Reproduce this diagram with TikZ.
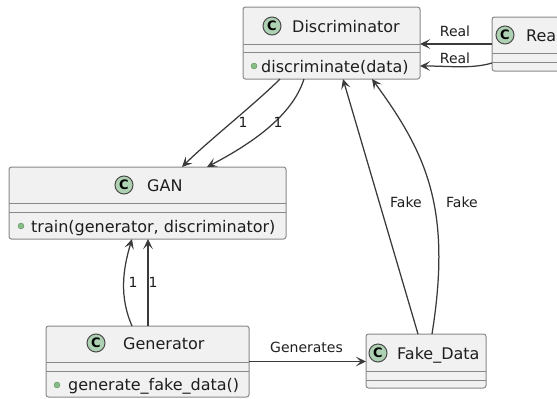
\documentclass[tikz,border=0pt]{standalone}
\usepackage{fontspec}
\setmainfont{DejaVu Sans}
\usetikzlibrary{arrows.meta}

\definecolor{boxfill}{HTML}{F1F1F1}
\definecolor{boxline}{HTML}{888888}
\definecolor{linecol}{HTML}{3A3A3A}
\definecolor{iconfill}{HTML}{ADD1B2}
\definecolor{iconline}{HTML}{4A4A4A}
\definecolor{bulletcol}{HTML}{84BE84}
\definecolor{textcol}{HTML}{1E1E1E}

\tikzset{
  classbox/.style={draw=boxline, fill=boxfill, line width=1pt, rounded corners=2.5pt,
    inner sep=0pt, outer sep=0pt, shape=rectangle},
  sepline/.style={draw=boxline, line width=1pt},
  cicon/.style={circle, draw=iconline, fill=iconfill, line width=1pt, minimum size=18pt,
    inner sep=0pt, text=black, font=\fontsize{13}{13}\selectfont\bfseries},
  cname/.style={anchor=base west, inner sep=0pt, text=textcol, font=\fontsize{16}{18}\selectfont},
  member/.style={anchor=base west, inner sep=0pt, text=textcol, font=\fontsize{16}{18}\selectfont},
  bullet/.style={circle, fill=bulletcol, draw=bulletcol!70!black, line width=0.3pt,
    minimum size=6pt, inner sep=0pt},
  conn/.style={draw=linecol, line width=1.25pt,
    -{Stealth[length=10pt, width=9.5pt, inset=4.5pt]}},
  lbl/.style={anchor=base, inner sep=0pt, text=textcol, font=\fontsize{14}{16}\selectfont},
}

\begin{document}
\begin{tikzpicture}[x=1pt, y=-1pt]
  \useasboundingbox (0,0) rectangle (557,399);
  \clip (0,0) rectangle (557,399);

  % class boxes
  \node[classbox, minimum width=177pt, minimum height=72pt] (disc) at (331.5,43) {};
  \node[classbox, minimum width=277pt, minimum height=72pt] (gan)  at (147.5,203) {};
  \node[classbox, minimum width=203pt, minimum height=71pt] (gen)  at (147.5,361.5) {};
  \node[classbox, minimum width=120pt, minimum height=54pt] (fake) at (426,361) {};
  \node[classbox, minimum width=110pt, minimum height=54pt] (real) at (547,44) {};

  % compartment separators
  \draw[sepline] (243,44) -- (420,44) (243,52) -- (420,52);
  \draw[sepline] (9,203) -- (286,203) (9,212) -- (286,212);
  \draw[sepline] (46,362) -- (249,362) (46,371) -- (249,371);
  \draw[sepline] (366,371) -- (486,371) (366,380) -- (486,380);
  \draw[sepline] (492,53) -- (602,53) (492,62) -- (602,62);

  % class icons and names
  \node[cicon] (discC) at (272,26) {C};
  \node[cname] (discN) at (292,32) {Discriminator};
  \node[cicon] (ganC) at (124,185) {C};
  \node[cname] (ganN) at (147,191) {GAN};
  \node[cicon] (genC) at (96,343) {C};
  \node[cname] (genN) at (123,349) {Generator};
  \node[cicon] (fakeC) at (378,353) {C};
  \node[cname] (fakeN) at (397,359) {Fake\_Data};
  \node[cicon] (realC) at (505,35) {C};
  \node[cname] (realN) at (526,41) {Rea};

  % methods
  \node[bullet] (discB) at (254,66) {};
  \node[member] (discM) at (261,72) {discriminate(data)};
  \node[bullet] (ganB) at (21,226) {};
  \node[member] (ganM) at (31,232) {train(generator, discriminator)};
  \node[bullet] (genB) at (57,385) {};
  \node[member] (genM) at (68,390) {generate\_fake\_data()};

  % Discriminator -> GAN
  \draw[conn] ([xshift=37pt]disc.south west) .. controls +(-25,25) and +(25,-25) .. ([xshift=173pt]gan.north west);
  \draw[conn] ([xshift=61pt]disc.south west) .. controls +(-12,38) and +(42,-22) .. ([xshift=198pt]gan.north west);
  \node[lbl] (l1) at (243,127) {1};
  \node[lbl] (l2) at (278,127) {1};

  % Generator -> GAN
  \draw[conn] ([xshift=86pt]gen.north west) .. controls +(-13,-30) and +(-9,30) .. ([xshift=123pt]gan.south west);
  \draw[conn] ([xshift=102pt]gen.north west) -- ([xshift=139pt]gan.south west);
  \node[lbl] (l3) at (133,287) {1};
  \node[lbl] (l4) at (153,287) {1};

  % Generator -> Fake_Data
  \draw[conn] (gen.east) -- (gen.east -| fake.west);
  \node[lbl, anchor=base west] (lg) at (270,352) {Generates};

  % Fake_Data -> Discriminator
  \draw[conn] ([xshift=52pt]fake.north west) -- ([xshift=100pt]disc.south west);
  \draw[conn] ([xshift=66pt]fake.north west) .. controls +(20,-125) and +(55,75) .. ([xshift=129pt]disc.south west);
  \node[lbl] (lf1) at (406,207) {Fake};
  \node[lbl] (lf2) at (462,207) {Fake};

  % Real_Data -> Discriminator
  \draw[conn] ([yshift=-27pt]real.north west) -- ([yshift=-37pt]disc.north east);
  \draw[conn] ([yshift=-46pt]real.north west) .. controls +(-20,6) and +(30,0) .. ([yshift=-59pt]disc.north east);
  \node[lbl] (lr1) at (455,36) {Real};
  \node[lbl] (lr2) at (455,63) {Real};
\end{tikzpicture}
\end{document}
